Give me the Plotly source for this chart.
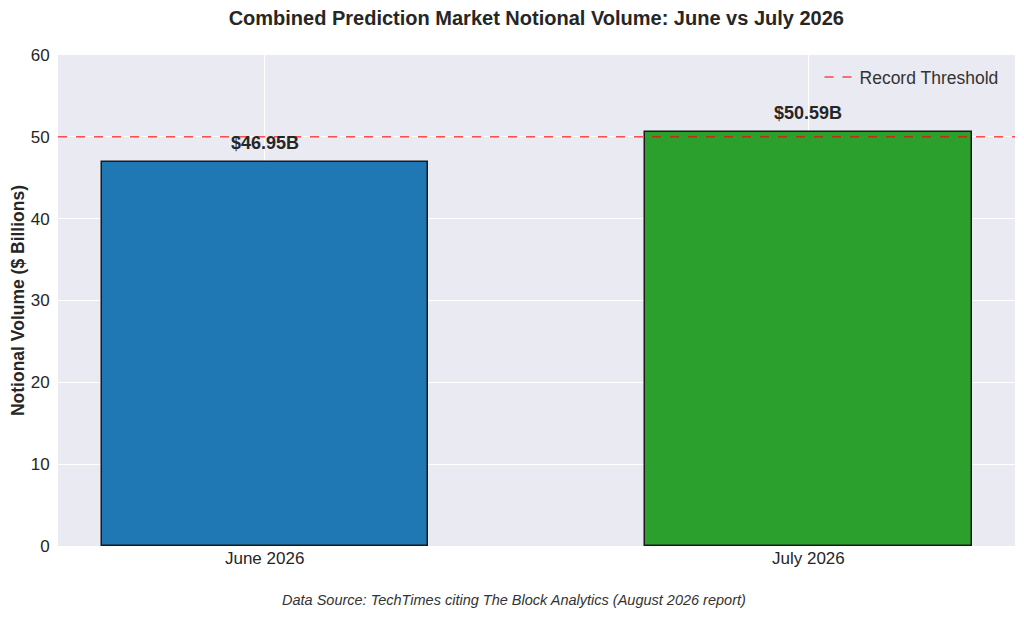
import plotly.graph_objects as go

categories = ["June 2026", "July 2026"]
values = [46.95, 50.59]
labels = ["$46.95B", "$50.59B"]
bar_colors = ["#1f77b4", "#2ca02c"]
threshold = 50
y_ticks = [0, 10, 20, 30, 40, 50, 60]

FONT = "Liberation Sans, Arial, sans-serif"
xpos = list(range(len(categories)))
xr = [-0.38, len(categories) - 1 + 0.38]

fig = go.Figure()
fig.add_trace(go.Bar(
    x=xpos, y=values, width=0.6,
    marker=dict(color=bar_colors, line=dict(color="#1a1a1a", width=1.5)),
    showlegend=False, hoverinfo="skip",
))
fig.add_trace(go.Scatter(
    x=xr, y=[threshold, threshold], mode="lines",
    line=dict(color="rgba(255,0,0,0.7)", width=1.5, dash="dash"),
    name="Record Threshold",
))
for xi, v, t in zip(xpos, values, labels):
    fig.add_annotation(x=xi, y=v, text="<b>" + t + "</b>", showarrow=False,
                       yanchor="bottom", yshift=7,
                       font=dict(family=FONT, size=18, color="#262626"))

fig.add_annotation(x=0.476, y=-0.11, xref="paper", yref="paper",
                   text="<i>Data Source: TechTimes citing The Block Analytics (August 2026 report)</i>",
                   showarrow=False, xanchor="center", yanchor="middle",
                   font=dict(family=FONT, size=14.5, color="#333333"))

fig.update_layout(
    width=1016, height=610,
    margin=dict(l=50, r=9, t=47, b=72),
    paper_bgcolor="white", plot_bgcolor="#EAEAF2",
    font=dict(family=FONT, color="#262626"),
    title=dict(text="<b>Combined Prediction Market Notional Volume: June vs July 2026</b>",
               x=0.52, xanchor="center", y=0.984, yanchor="middle",
               font=dict(family=FONT, size=20, color="#262626")),
    legend=dict(x=0.988, y=0.955, xanchor="right", yanchor="middle",
                bgcolor="rgba(0,0,0,0)", font=dict(family=FONT, size=17.5, color="#333333")),
    bargap=0,
)
fig.update_xaxes(range=xr, tickvals=xpos, ticktext=categories,
                 showgrid=True, gridcolor="white", gridwidth=1, zeroline=False,
                 tickfont=dict(size=17, color="#262626"), ticks="", showline=False)
fig.update_yaxes(range=[0, 60], tickvals=y_ticks, showgrid=True, gridcolor="white",
                 gridwidth=1, zeroline=False, automargin=False,
                 ticks="outside", ticklen=4, tickcolor="rgba(0,0,0,0)",
                 title=dict(text="<b>Notional Volume ($ Billions)</b>", standoff=4,
                            font=dict(size=17.5, color="#262626")),
                 tickfont=dict(size=17, color="#262626"), showline=False)

fig.write_html("out.html")
